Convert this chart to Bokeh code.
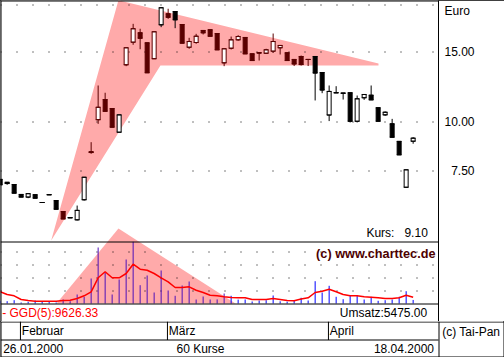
import math
from bokeh.plotting import figure
from bokeh.layouts import column
from bokeh.models import (Range1d, LinearScale, FixedTicker, PrintfTickFormatter,
                          ColumnDataSource)
from bokeh.core.properties import value
from bokeh.embed import file_html
from bokeh.resources import INLINE

# ---------------- data ----------------
first_date = "26.01.2000"
last_date = "18.04.2000"
months = ["Februar", "März", "April"]
month_first_idx = [4, 25, 48]

opens = [7.16, 7.04, 6.95, 6.56, 6.46, 6.55, 6.26, 6.55, 6.33, 5.94,
         5.73, 5.66, 6.36, 8.41, 10.13, 11.39, 10.81, 9.42, 13.94, 15.90,
         16.79, 15.84, 14.44, 17.59, 18.75, 19.00, 17.62, 15.44, 15.87, 17.02,
         17.09, 16.72, 14.10, 15.35, 16.12, 16.34, 14.86, 14.95, 14.91, 15.09,
         15.39, 14.95, 14.38, 14.63, 14.38, 14.63, 13.33, 10.41, 11.85, 11.82,
         11.85, 10.04, 11.51, 11.68, 10.86, 10.42, 9.89, 8.93, 6.84, 8.94]
highs = [7.16, 7.04, 6.95, 6.56, 6.59, 6.55, 6.26, 6.55, 6.33, 5.94,
         5.73, 6.15, 7.25, 8.89, 12.36, 11.85, 10.81, 10.42, 15.39, 17.69,
         17.19, 15.84, 16.89, 19.49, 19.31, 19.00, 17.62, 16.31, 16.69, 17.02,
         17.09, 16.72, 15.30, 16.43, 16.56, 16.34, 14.86, 15.00, 15.30, 16.72,
         15.60, 14.95, 14.38, 14.71, 14.38, 14.63, 13.33, 12.36, 12.31, 11.82,
         11.85, 11.66, 11.73, 12.36, 10.86, 10.63, 10.18, 8.93, 7.57, 9.15]
lows = [6.94, 6.94, 6.61, 6.46, 6.42, 6.42, 6.26, 6.55, 6.02, 5.69,
        5.73, 5.64, 6.33, 8.31, 9.89, 10.64, 9.70, 9.42, 13.83, 15.66,
        15.26, 13.31, 14.44, 17.35, 18.21, 17.25, 15.81, 15.30, 15.75, 16.63,
        16.46, 15.21, 13.83, 15.24, 16.03, 14.86, 14.29, 14.29, 14.86, 14.95,
        14.80, 14.29, 13.84, 13.88, 13.84, 11.33, 11.82, 10.05, 11.85, 11.39,
        9.97, 9.97, 11.37, 11.37, 10.04, 10.36, 9.15, 8.26, 6.82, 8.81]
closes = [6.94, 6.99, 6.61, 6.46, 6.59, 6.42, 6.26, 6.55, 6.02, 5.69,
          5.73, 5.98, 7.25, 8.37, 10.89, 10.64, 9.70, 10.42, 15.39, 17.19,
          16.27, 13.31, 16.89, 19.42, 18.38, 18.11, 15.81, 15.96, 16.46, 16.79,
          16.46, 15.21, 15.30, 16.12, 16.43, 14.86, 14.29, 14.93, 15.21, 15.96,
          15.60, 14.29, 14.01, 13.96, 14.38, 13.29, 12.04, 11.94, 11.85, 11.82,
          10.04, 11.44, 11.73, 11.37, 10.04, 10.58, 9.15, 8.26, 7.57, 9.10]
volumes = [3850, 3540, 5080, 1540, 2620, 4620, 2620, 2620, 1540, 6150,
           3540, 13850, 10310, 38460, 86160, 47230, 13850, 36920, 67690, 94920,
           28150, 43080, 16920, 50770, 20000, 11850, 27690, 33850, 6150, 10770,
           6150, 6300, 15380, 11850, 6000, 6200, 3080, 4620, 5080, 12310,
           3380, 2770, 4310, 8770, 4620, 34310, 16920, 27230, 10310, 6620,
           12770, 12500, 6150, 10310, 4150, 5080, 6150, 10310, 18920, 5475.00]
ggd5 = [18000, 13850, 11850, 6150, 4620, 3540, 3540, 3540, 3540, 4620,
        5080, 7690, 11850, 18000, 39540, 48770, 39540, 39540, 46150, 60460,
        52770, 51230, 46150, 39540, 33380, 24620, 24620, 25690, 20460, 16920,
        12770, 11850, 10310, 9230, 8770, 8770, 6150, 6150, 6150, 7690,
        6150, 4620, 4150, 6920, 8770, 16920, 18920, 22000, 18000, 13850,
        11850, 11850, 10310, 9690, 8770, 7690, 7690, 8770, 12770, 9626.33]

# trend drawings (trading-day index, price / volume)
flag_idx = [7.29, 16.9, 54.05, 54.05, 22.9]
flag_price = [5.02, 20.3, 14.05, 13.88, 13.88]
vtri_idx = [8.05, 16.9, 33.62]
vtri_vol = [0, 115400, 0]

price_ticks = [7.5, 10, 15]
euro_tick = 19.1
price_grid = [7.5, 10, 15, 19.7]
vol_grid = [20000, 40000, 60000, 80000]

# ---------------- layout constants ----------------
FONT = "Liberation Sans"
W, H = 504, 357
TH = 321          # height of the upper (chart) figure
FW = 438          # chart frame width
STEP = 7.0        # px per trading day
X0 = 0.05
P15_Y, PX_PER_LN = 51.7, 172.0
VOL_BASE_Y, VOL_PER_PX = 303.0, 20000 / 13
PINK = "#ffaaaa"
DARK = "#5a0000"
PURPLE = "#5010b8"

p_hi = 15 * math.exp(P15_Y / PX_PER_LN)
p_lo = 15 * math.exp((P15_Y - TH) / PX_PER_LN)

p = figure(width=W, height=TH, x_range=Range1d(X0, X0 + FW / STEP),
           y_range=Range1d(p_lo, p_hi), y_axis_type="log", y_axis_location="right",
           x_axis_location=None, toolbar_location=None, output_backend="svg",
           min_border=0, min_border_right=W - FW)
p.extra_x_ranges = {"px": Range1d(0, FW)}
p.extra_y_ranges = {"vol": Range1d((VOL_BASE_Y - TH) * VOL_PER_PX, VOL_BASE_Y * VOL_PER_PX),
                    "lay": Range1d(TH, 0)}
p.extra_y_scales = {"vol": LinearScale(), "lay": LinearScale()}

ax = p.yaxis[0]
ax.ticker = FixedTicker(ticks=price_ticks + [euro_tick])
ax.formatter = PrintfTickFormatter(format="%.2f")
ax.major_label_overrides = {7.5: "\u00a0\u00a07.50", euro_tick: "Euro"}
ax.axis_line_color = "black"
ax.major_tick_out = 0
ax.major_tick_in = 0
ax.minor_tick_out = 0
ax.minor_tick_in = 0
ax.major_label_standoff = 6
ax.major_label_text_font = FONT
ax.major_label_text_font_size = "12px"
ax.major_label_text_color = "black"

b = figure(width=W, height=H - TH, x_range=Range1d(X0, X0 + W / STEP),
           y_range=Range1d(H, TH), x_axis_location=None, y_axis_location=None,
           toolbar_location=None, output_backend="svg", min_border=0)
b.extra_x_ranges = {"px": Range1d(0, W)}

for f in (p, b):
    f.xgrid.visible = False
    f.ygrid.visible = False
    f.outline_line_color = None
    f.background_fill_color = "white"
    f.border_fill_color = "white"
    f.frame_align = False


def inside(x, y, xs, ys):
    c = False
    j = len(xs) - 1
    for k in range(len(xs)):
        if (ys[k] > y) != (ys[j] > y):
            xc = (xs[j] - xs[k]) * (y - ys[k]) / (ys[j] - ys[k]) + xs[k]
            if x < xc:
                c = not c
        j = k
    return c


# pink drawings
p.patch(flag_idx, flag_price, fill_color=PINK, line_color=None)
p.patch(vtri_idx, vtri_vol, y_range_name="vol", fill_color=PINK, line_color=None)

# dotted grids (snapped to whole pixel rows so the dots stay crisp)
gy = [math.floor(P15_Y - PX_PER_LN * math.log(v / 15)) + 0.5 for v in price_grid]
gy += [math.floor(VOL_BASE_Y - v / VOL_PER_PX) + 0.5 for v in vol_grid]
p.segment(x0=0, x1=FW, y0=gy, y1=gy, x_range_name="px", y_range_name="lay",
          line_color="black", line_width=1, line_dash="1 15")

# candles
n = len(closes)
idx = list(range(n))
flag_ly = [math.log(v) for v in flag_price]
cols, fills, tops, bots = [], [], [], []
for i in idx:
    top, bot = max(opens[i], closes[i]), min(opens[i], closes[i])
    inn = inside(i, math.log(top), flag_idx, flag_ly) and inside(i, math.log(bot), flag_idx, flag_ly)
    col = DARK if inn else "black"
    cols.append(col)
    fills.append("white" if closes[i] > opens[i] else col)
    tops.append(top)
    bots.append(bot)
hw = 2.5 / STEP
src = ColumnDataSource(dict(x=idx, xl=[i - hw for i in idx], xr=[i + hw for i in idx],
                            o=opens, h=highs, l=lows, c=closes, top=tops, bot=bots,
                            col=cols, fill=fills))
p.segment(x0="x", x1="x", y0="h", y1="l", line_color="col", line_width=1, source=src)
p.vbar(x="x", width=4 / STEP, top="top", bottom="bot", fill_color="fill",
       line_color="col", line_width=1, source=src)
p.segment(x0="xl", x1="xr", y0="o", y1="o", line_color="col", line_width=1, source=src)
p.segment(x0="xl", x1="xr", y0="c", y1="c", line_color="col", line_width=1, source=src)

# volume
vcols = [PURPLE if inside(i, volumes[i] / 2, vtri_idx, vtri_vol) else "#0000ff" for i in idx]
p.segment(x0=idx, x1=idx, y0=[0] * n, y1=volumes, y_range_name="vol",
          line_color=vcols, line_width=1)
p.line(idx, ggd5, y_range_name="vol", line_color="#ff0000", line_width=1.5)

# frame lines of the upper figure
p.segment(x0=0, x1=FW, y0=[0.5, 241.5, 303.5], y1=[0.5, 241.5, 303.5],
          x_range_name="px", y_range_name="lay", line_color="black", line_width=1)
p.segment(x0=0.5, x1=0.5, y0=0, y1=TH, x_range_name="px", y_range_name="lay",
          line_color="black", line_width=1)

# frame lines of the lower figure
b.segment(x0=[0, 0, 0], x1=[W, FW, W], y0=[TH + 0.5, 339.5, H - 0.5], y1=[TH + 0.5, 339.5, H - 0.5],
          x_range_name="px", line_color="black", line_width=1)
b.segment(x0=[0.5, FW + 0.5, W - 0.5], x1=[0.5, FW + 0.5, W - 0.5], y0=TH, y1=H,
          x_range_name="px", line_color="black", line_width=1)
mx = [fi - 1.1 for fi in month_first_idx]
b.segment(x0=mx, x1=mx, y0=TH, y1=339.5, line_color="black", line_width=1)


def txt(f, x, y, s, align="left", color="black", style="normal", size="12px", xr="px", yr=None):
    kw = {}
    if xr:
        kw["x_range_name"] = xr
    if yr:
        kw["y_range_name"] = yr
    f.text(x=[x], y=[y], text=[s], text_align=align, text_baseline="middle",
           text_font=value(FONT), text_font_size=size, text_color=color,
           text_font_style=style, **kw)


txt(p, 427.3, 232, "Kurs:\u00a0\u00a0\u00a0%.2f" % closes[-1], align="right", yr="lay")
txt(p, 435, 253.5, "(c) www.charttec.de", align="right", color="#4d0000", style="bold",
    size="12.7px", yr="lay")
txt(p, 1.7, 312, "- GGD(5):%.2f" % ggd5[-1], color="#ff0000", yr="lay")
txt(p, 426.7, 312, "Umsatz:%.2f" % volumes[-1], align="right", yr="lay")
for m, x in zip(months, mx):
    txt(b, x + 0.2, 330, m, xr=None)
txt(b, 2.7, 348, first_date)
txt(b, 200, 348, "%d Kurse" % n, align="center")
txt(b, 433.5, 348, last_date, align="right")
txt(b, 441.7, 331.7, "(c) Tai-Pan")

layout = column(p, b, spacing=0,
                styles={"outline": "1px solid black", "outline-offset": "-1px"})
open("out.html", "w").write(file_html(layout, INLINE))
